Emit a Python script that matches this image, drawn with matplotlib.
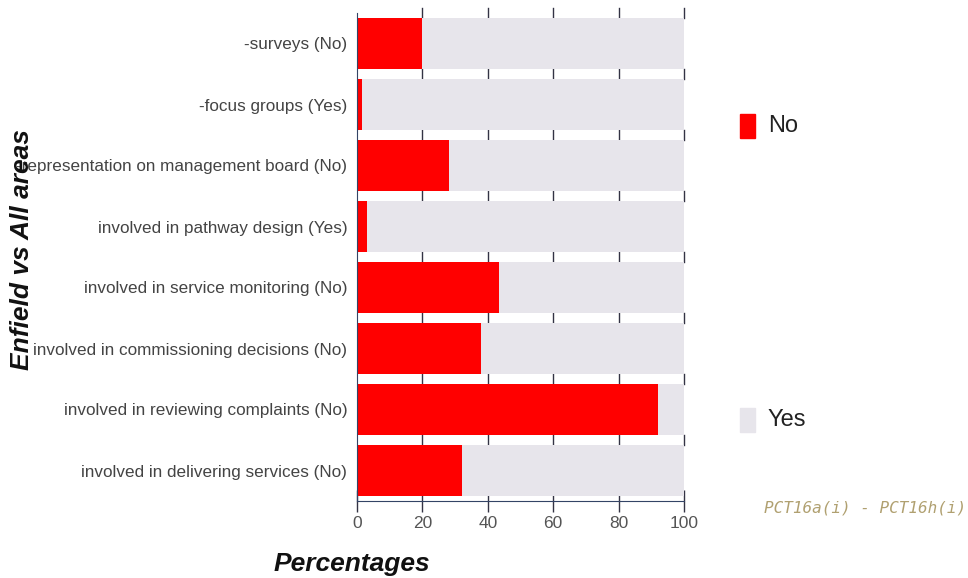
import matplotlib
matplotlib.use("Agg")
import matplotlib.pyplot as plt
import numpy as np

plt.rcParams['font.family'] = ['Liberation Sans', 'DejaVu Sans']

categories = [
    "-surveys (No)",
    "-focus groups (Yes)",
    "-representation on management board (No)",
    "involved in pathway design (Yes)",
    "involved in service monitoring (No)",
    "involved in commissioning decisions (No)",
    "involved in reviewing complaints (No)",
    "involved in delivering services (No)",
]
no_values = [20, 1.5, 28, 3, 43.5, 38, 92, 32]
yes_values = [100 - v for v in no_values]
x_ticks = [0, 20, 40, 60, 80, 100]

RED = "#ff0000"
GREY = "#e7e5eb"

fig = plt.figure(figsize=(9.68, 5.78), dpi=100)
ax = fig.add_axes([357/968, 1 - 501/578, (684-357)/968, (501-13)/578])

y = np.arange(len(categories))
ax.barh(y, no_values, height=0.82, color=RED, zorder=2)
ax.barh(y, yes_values, left=no_values, height=0.82, color=GREY, zorder=2)

ax.set_xlim(0, 100)
ax.set_ylim(len(categories) - 0.5, -0.5)
ax.set_yticks(y)
ax.set_yticklabels(categories, fontsize=12.3, color="#444444")
ax.tick_params(axis='y', length=0, pad=7)
ax.set_xticks(x_ticks)
ax.set_xticklabels([str(t) for t in x_ticks], fontsize=12.5, color="#555555")
ax.tick_params(axis='x', direction='inout', length=16, width=1, color="#333344", pad=3)

# small tick marks in gaps between bars
for b in np.arange(-0.5, len(categories) - 0.5, 1.0):
    for t in x_ticks[1:]:
        ax.plot([t, t], [b - 0.08, b + 0.08], color="#333344", lw=1, zorder=1,
                clip_on=False)

for s in ['top', 'right']:
    ax.spines[s].set_visible(False)
ax.spines['left'].set_color("#334466")
ax.spines['bottom'].set_color("#334466")

fig.text(22/968, 1 - 250/578, "Enfield vs All areas", rotation=90, fontsize=19,
         fontweight='bold', fontstyle='italic', ha='center', va='center', color="#111111")
fig.text(352/968, 1 - 564/578, "Percentages", fontsize=19, fontweight='bold',
         fontstyle='italic', ha='center', va='center', color="#111111")

# legend
fig.patches.append(plt.Rectangle((740/968, 1 - 138/578), 15/968, 24/578,
                                 transform=fig.transFigure, color=RED))
fig.text(768/968, 1 - 126/578, "No", fontsize=17, va='center', color="#222222")
fig.patches.append(plt.Rectangle((740/968, 1 - 432/578), 15/968, 24/578,
                                 transform=fig.transFigure, color=GREY))
fig.text(768/968, 1 - 420/578, "Yes", fontsize=17, va='center', color="#222222")

fig.text(966/968, 1 - 508/578, "PCT16a(i) - PCT16h(i)", fontsize=11.5,
         fontstyle='italic', ha='right', va='center', color="#b0a070",
         family='DejaVu Sans Mono')

fig.savefig("out.png", dpi=100)
